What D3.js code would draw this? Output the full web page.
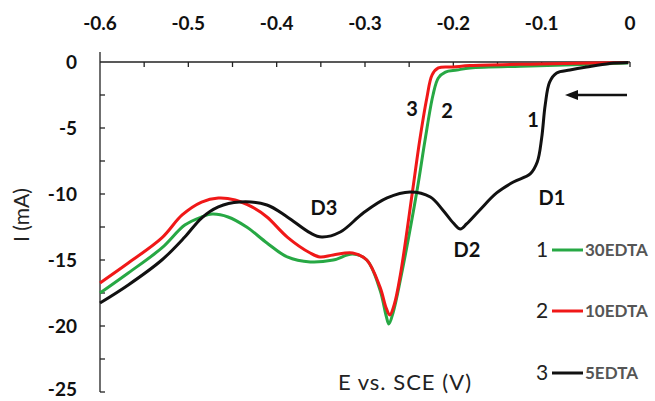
<!DOCTYPE html>
<html><head><meta charset="utf-8">
<script src="https://cdn.jsdelivr.net/npm/d3@7"></script>
<style>body{margin:0;background:#fff}svg{display:block}</style>
</head><body>
<svg id="c" width="655" height="401"></svg>
<script>
const xTicks = [-0.6,-0.5,-0.4,-0.3,-0.2,-0.1,0];
const yTicks = [0,-5,-10,-15,-20,-25];
const seriesNames = ["30EDTA","10EDTA","5EDTA"];
const seriesNums = ["1","2","3"];
const green30E = [-0.600,-0.568,-0.530,-0.504,-0.485,-0.473,-0.455,-0.434,-0.411,-0.388,-0.362,-0.336,-0.314,-0.298,-0.283,-0.276,-0.273,-0.268,-0.260,-0.241,-0.232,-0.223,-0.217,-0.209,-0.196,-0.181,-0.113,-0.002];
const green30I = [-17.50,-15.98,-14.09,-12.35,-11.74,-11.52,-11.74,-12.50,-13.71,-14.77,-15.15,-15.00,-14.55,-15.00,-17.27,-19.24,-19.85,-18.94,-16.52,-9.70,-5.91,-2.50,-1.21,-0.76,-0.61,-0.45,-0.30,-0.08];
const red10E = [-0.600,-0.568,-0.530,-0.507,-0.485,-0.466,-0.447,-0.428,-0.411,-0.388,-0.362,-0.351,-0.336,-0.314,-0.298,-0.283,-0.276,-0.272,-0.267,-0.260,-0.246,-0.238,-0.230,-0.224,-0.217,-0.200,-0.181,-0.102,-0.002];
const red10I = [-16.74,-15.23,-13.33,-11.59,-10.61,-10.30,-10.45,-10.98,-11.74,-13.26,-14.47,-14.77,-14.62,-14.47,-15.00,-17.05,-18.64,-19.17,-18.41,-16.14,-9.70,-5.91,-2.73,-0.98,-0.45,-0.38,-0.27,-0.15,-0.04];
const black5E = [-0.600,-0.568,-0.530,-0.504,-0.485,-0.466,-0.442,-0.411,-0.388,-0.362,-0.349,-0.328,-0.302,-0.275,-0.249,-0.226,-0.212,-0.200,-0.192,-0.185,-0.170,-0.151,-0.132,-0.113,-0.105,-0.100,-0.096,-0.091,-0.083,-0.068,-0.049,-0.023,-0.002];
const black5I = [-18.26,-16.89,-15.00,-13.26,-11.82,-10.98,-10.61,-10.83,-11.74,-12.95,-13.26,-12.88,-11.44,-10.30,-9.85,-10.23,-11.21,-12.20,-12.65,-12.27,-11.21,-9.92,-9.09,-8.48,-7.58,-5.76,-3.26,-1.52,-0.83,-0.61,-0.38,-0.11,-0.04];
const colors = ["#27a844","#f01818","#111111"];

const svg = d3.select("#c");
const x = d3.scaleLinear().domain([-0.6,0]).range([100,630]);
const y = d3.scaleLinear().domain([-25,0]).range([392,62]);
const tickFont = "Lato, 'Open Sans', sans-serif";

// axes lines
svg.append("line").attr("x1",x(-0.6)).attr("x2",x(0)).attr("y1",y(0)).attr("y2",y(0)).attr("stroke","#222").attr("stroke-width",1.3);
svg.append("line").attr("x1",x(-0.6)).attr("x2",x(-0.6)).attr("y1",52).attr("y2",y(-25)).attr("stroke","#222").attr("stroke-width",1.3);
d3.range(-0.55,0.001,0.05).forEach(v=>{
  svg.append("line").attr("x1",x(v)).attr("x2",x(v)).attr("y1",y(0)).attr("y2",y(0)+5).attr("stroke","#222").attr("stroke-width",1.3);
});
d3.range(-25,0,2.5).forEach(v=>{
  svg.append("line").attr("x1",x(-0.6)).attr("x2",x(-0.6)+5).attr("y1",y(v)).attr("y2",y(v)).attr("stroke","#222").attr("stroke-width",1.3);
});
svg.selectAll("text.xt").data(xTicks).enter().append("text")
  .attr("x",d=>x(d)).attr("y",30).attr("text-anchor","middle")
  .attr("font-family",tickFont).attr("font-weight","bold").attr("font-size",19).attr("fill","#111")
  .text(d=>d===0?"0":d3.format(".1f")(d).replace("−","-"));
svg.selectAll("text.yt").data(yTicks).enter().append("text")
  .attr("x",77).attr("y",d=>Math.min(y(d)+7,396)).attr("text-anchor","end")
  .attr("font-family",tickFont).attr("font-weight","bold").attr("font-size",19).attr("fill","#111")
  .text(d=>String(d));

// curves
const line = d3.line().x(d=>x(d[0])).y(d=>y(d[1])).curve(d3.curveCatmullRom.alpha(0.5));
const series = [[green30E,green30I],[red10E,red10I],[black5E,black5I]];
series.forEach((s,i)=>{
  const pts = s[0].map((e,k)=>[e,s[1][k]]);
  svg.append("path").attr("d",line(pts)).attr("fill","none").attr("stroke",colors[i]).attr("stroke-width",3).attr("stroke-linejoin","round");
});

// arrow
svg.append("line").attr("x1",627).attr("x2",575).attr("y1",95).attr("y2",95).attr("stroke","#111").attr("stroke-width",2.5);
svg.append("path").attr("d","M565,95 L578,90 L578,100 Z").attr("fill","#111");

// annotations
const lab = (t,xx,yy,sz,w)=>svg.append("text").attr("x",xx).attr("y",yy).attr("text-anchor","middle")
  .attr("font-family",tickFont).attr("font-weight",w||"bold").attr("font-size",sz).attr("fill","#111").text(t);
lab("3",412,116,20); lab("2",447,118,20); lab("1",533,127,20);
lab("D3",324,215,20); lab("D2",467,257,20); lab("D1",552,205,20);

// axis titles
svg.append("text").attr("transform","translate(29,215) rotate(-90)").attr("text-anchor","middle")
  .attr("font-family",tickFont).attr("font-size",21).attr("fill","#222").text("I (mA)");
svg.append("text").attr("x",405).attr("y",390).attr("text-anchor","middle")
  .attr("font-family",tickFont).attr("font-size",22).attr("letter-spacing",1).attr("fill","#222").text("E vs. SCE (V)");

// legend
const ly = [250,311,373];
seriesNames.forEach((n,i)=>{
  svg.append("text").attr("x",542).attr("y",ly[i]+7).attr("text-anchor","middle")
    .attr("font-family",tickFont).attr("font-size",21).attr("fill","#222").text(seriesNums[i]);
  svg.append("line").attr("x1",552).attr("x2",583).attr("y1",ly[i]).attr("y2",ly[i]).attr("stroke",colors[i]).attr("stroke-width",3);
  svg.append("text").attr("x",585).attr("y",ly[i]+6).attr("font-family",tickFont).attr("font-weight","bold")
    .attr("font-size",17).attr("fill","#555").text(n);
});
</script>
</body></html>
